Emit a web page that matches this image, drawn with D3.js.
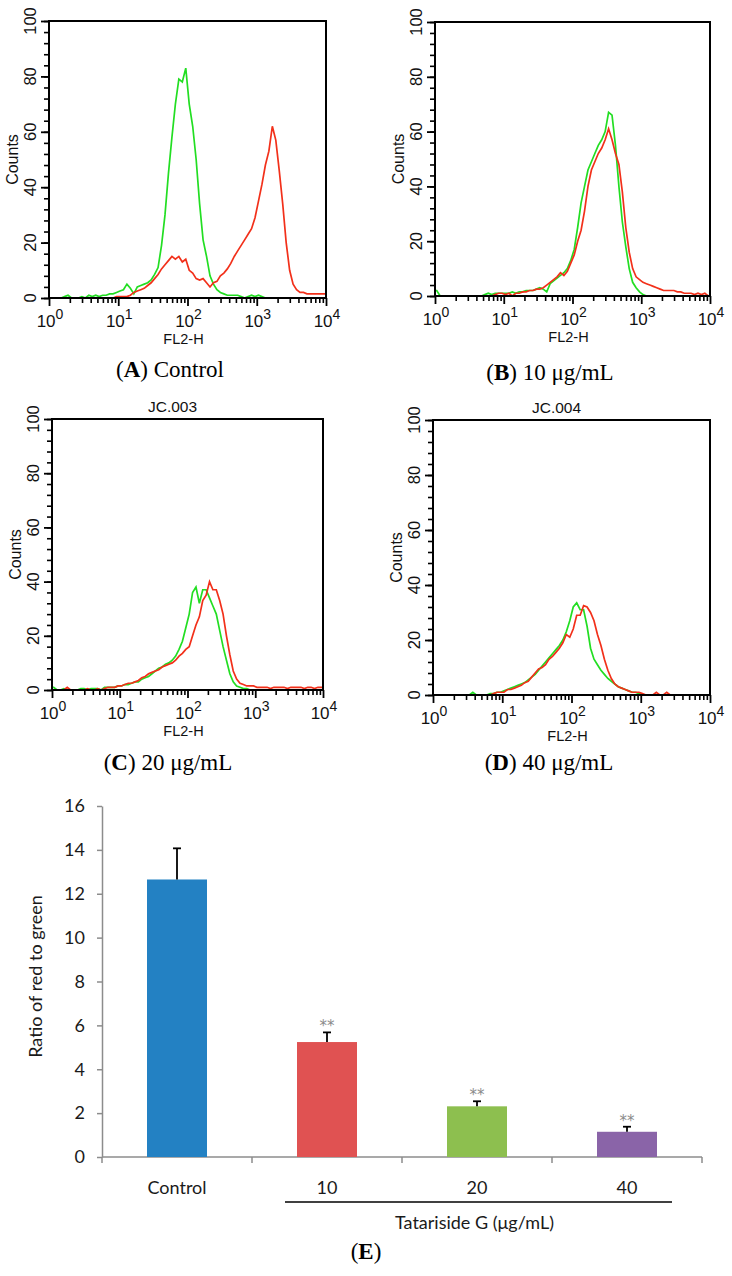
<!DOCTYPE html>
<html><head><meta charset="utf-8">
<script src="https://cdn.jsdelivr.net/npm/d3@7"></script>
<style>body{margin:0;background:#fff}svg{display:block}</style>
</head><body>
<svg id="c" width="732" height="1276"></svg>
<script>
// ---------------- DATA ----------------
// Flow histograms: counts per bin, bins are 0.05 decade wide from 10^0 to 10^4 (80 bins)
const binStep = 0.05;
const greenA = [0,0,0,0,0.5,1,0,0,0,0.5, 0,1,0.5,1,0.5,1,1,1.5,1.5,2,
  2.5,3,5,3.5,1.5,4,4.5,5,5.5,6.5, 8.5,11,19,30,45,58,70,79,78,83,
  70,62,50,34,21,15,8,5,3,2, 1.5,1,1,1,1,0.5,0,0.5,1,0.5,
  1,0.5,0,0,0,0,0,0,0,0, 0,0,0,0,0,0,0,0,0,0];
const redA = [0,0,0,0,0,0,0,0,0,0, 0,0,0,0,0,0,0,0,0,0.5,
  0.5,0.5,0.5,1,2,2.5,3,3.5,4.5,5.5, 7,8.5,10.5,12,13.5,15,14,15,13,14,
  10,9,7,6.5,7,5.5,4,5.5,6,8, 9,10.5,12.5,15,17,19,21,23,25,29,
  35,41,48,53,62,57,46,34,20,10, 5,3,2,2,1.5,1.5,1.5,1.5,1.5,1.5];
const greenB = [2,0,0,0,0,0,0,0,0,0, 0,0,0,0,0.5,1,0.5,1,1,1,
  1,1,1.5,1,1.5,1.5,2,2,2,2.5, 3,2.5,1.5,4.5,5.5,6.5,7.5,8.5,10,13,
  17,25,34,40,46,49,52,55,57,60, 67,66,55,40,27,18,10,5,3,1.5,
  0.5,0,0,0,0,0,0,0,0,0, 0,0,0,0,0,0,0,0,0,0];
const redB = [0,0,0,0,0,0,0,0,0,0, 0,0,0,0,0,0,0,0.5,1,1,
  0.5,1,0,1,1,1.5,1.5,2,2,2.5, 2.5,3,4,5,6,7,8.5,7.5,9,12,
  15,20,24,31,40,46,49,52,54,57, 61,57,52,48,38,25,16,10,7,6,
  5,4.5,4,3.5,3,2.5,2,2,2,2, 1.5,1.5,1,1,1,0.5,1,0.5,1,0];
const greenC = [1,0,0,0.5,0,0,0,0,0.5,0.5, 0,0.5,0.5,0.5,0,1,1,1,1,1.5,
  1.5,2,2,2.5,3,3,4,4.5,5,6, 7,8,8.5,9.5,10,11,12.5,15,18,23,
  28,36,38,32,37,37,34,31,28,22, 16,11,6,3,1.5,1,0.5,0.5,0,0,
  0,0,0,0,0,0,0,0,0,0, 0,0,0,0,0,0,0,0,0,0];
const redC = [0,0,0,0,1,0,0,0,0,0, 0.5,0,0,0.5,0,0.5,1,1,1,1.5,
  1.5,2,2.5,2.5,3,3.5,4.5,5,6,6.5, 7,7.5,8.5,9,9.5,10,11,12.5,13.5,15,
  16,20,24,27,33,35,40,37,37,33, 28,20,13,7,4,2.5,2,1.5,1.5,1.5,
  1,1,1,1,0.5,1,1,1,1,0.5, 1,1,1,1,0.5,1,1,0.5,1,1];
const greenD = [0,0,0,0,0,0,0,0,0,0, 0,1,0,0,0,0,0.5,0.5,1,1,
  1.5,2,2.5,3,3.5,4,4.5,5.5,6.5,7.5, 9,10.5,12,13.5,15,16.5,18,20,23,27,
  32,33.5,31,31,25,17,13,11,9,7.5, 6,5,4,3,2.5,2,1.5,1,1,0.5,
  0,0,0,0,0,0,0,0,0,0, 0,0,0,0,0,0,0,0,0,0];
const redD = [0,0,0,0,0,0,0,0,0,0, 0,0,0,0,0,0,0,0.5,1,1,
  1,2,2,2.5,3,3.5,4.5,5,6.5,8, 9.5,10,11,13,14,15.5,17,19,22,21,
  24,29,29,32.5,32,30,27,22,18,13, 9,6,4,3,2.5,2,1.5,1,1,1,
  0.5,0,0,0,1,0,0,1,0,0, 0,0,0,0,0,0,0,0,0,0];

const countTicks = [0, 20, 40, 60, 80, 100];
const countMinorTicks = d3.range(0, 101, 4);
const decadeTicks = [1, 10, 100, 1000, 10000];
const decadeExponents = ["0", "1", "2", "3", "4"];
const histXLabel = "FL2-H";
const histYLabel = "Counts";
const panelTitles = ["", "", "JC.003", "JC.004"];
const panelLetters = ["A", "B", "C", "D"];
const panelCaptions = [" Control", " 10 \u03bcg/mL", " 20 \u03bcg/mL", " 40 \u03bcg/mL"];

// Bar chart (E)
const barCategories = ["Control", "10", "20", "40"];
const barValues = [12.65, 5.24, 2.31, 1.15];
const barErrors = [1.42, 0.44, 0.23, 0.23];
const barMarks = ["", "**", "**", "**"];
const ratioTicks = [0, 2, 4, 6, 8, 10, 12, 14, 16];
const barYLabel = "Ratio of red to green";
const barGroupLabel = "Tatariside G (\u03bcg/mL)";
const barPanelLetter = "E";

// ---------------- LAYOUT / STYLE ----------------
const svg = d3.select("#c");
svg.append("rect").attr("width", 732).attr("height", 1276).attr("fill", "#fff");
const SANS = "'Liberation Sans', Arial, Helvetica, sans-serif";
const SERIF = "'Liberation Serif', 'Times New Roman', serif";
const GREEN = "#22de22", RED = "#f2301a";

const panels = [
  {x0: 49, x1: 326, y0: 21, y1: 298, cx: 170, cy: 377, green: greenA, red: redA},
  {x0: 435, x1: 710, y0: 22, y1: 296, cx: 550, cy: 380, green: greenB, red: redB},
  {x0: 52, x1: 323, y0: 419, y1: 690, cx: 168, cy: 770, green: greenC, red: redC},
  {x0: 433, x1: 710, y0: 420, y1: 695, cx: 549, cy: 770, green: greenD, red: redD}
];

panels.forEach((p, pi) => {
  const g = svg.append("g");
  const x = d3.scaleLog().domain([1, 10000]).range([p.x0, p.x1]);
  const y = d3.scaleLinear().domain([0, 100]).range([p.y1, p.y0]);

  // y axis ticks
  g.append("g").attr("transform", `translate(${p.x0},0)`)
    .call(d3.axisLeft(y).tickValues(countMinorTicks).tickSize(5).tickFormat(""))
    .call(a => a.select(".domain").remove())
    .call(a => a.selectAll("line").attr("stroke", "#000").attr("stroke-width", 1.6));
  g.append("g").attr("transform", `translate(${p.x0},0)`)
    .call(d3.axisLeft(y).tickValues(countTicks).tickSize(8).tickFormat(""))
    .call(a => a.select(".domain").remove())
    .call(a => a.selectAll("line").attr("stroke", "#000").attr("stroke-width", 1.8));
  // x axis ticks
  const minorX = [];
  decadeTicks.slice(0, -1).forEach(d => { for (let k = 2; k <= 9; k++) minorX.push(d * k); });
  g.append("g").attr("transform", `translate(0,${p.y1})`)
    .call(d3.axisBottom(x).tickValues(minorX).tickSize(5).tickFormat(""))
    .call(a => a.select(".domain").remove())
    .call(a => a.selectAll("line").attr("stroke", "#000").attr("stroke-width", 1.6));
  g.append("g").attr("transform", `translate(0,${p.y1})`)
    .call(d3.axisBottom(x).tickValues(decadeTicks).tickSize(8).tickFormat(""))
    .call(a => a.select(".domain").remove())
    .call(a => a.selectAll("line").attr("stroke", "#000").attr("stroke-width", 1.8));

  // y tick labels (rotated)
  countTicks.forEach(t => {
    g.append("text").attr("transform", `translate(${p.x0 - 19},${y(t)}) rotate(-90)`)
      .attr("text-anchor", "middle").attr("dominant-baseline", "central")
      .attr("font-family", SANS).attr("font-size", 16.5).attr("fill", "#111").text(t);
  });
  g.append("text").attr("transform", `translate(${p.x0 - 37},${(p.y0 + p.y1) / 2}) rotate(-90)`)
    .attr("text-anchor", "middle").attr("dominant-baseline", "central")
    .attr("font-family", SANS).attr("font-size", 16).attr("fill", "#111").text(histYLabel);
  // x tick labels
  decadeTicks.forEach((t, i) => {
    const tx = g.append("text").attr("x", x(t) + 1).attr("y", p.y1 + 29)
      .attr("text-anchor", "middle").attr("font-family", SANS).attr("font-size", 17).attr("fill", "#111");
    tx.append("tspan").text("10");
    tx.append("tspan").attr("dy", -8).attr("font-size", 14).text(decadeExponents[i]);
  });
  g.append("text").attr("x", (p.x0 + p.x1) / 2 - 4).attr("y", p.y1 + 46)
    .attr("text-anchor", "middle").attr("font-family", SANS).attr("font-size", 14.5).attr("fill", "#111").text(histXLabel);
  if (panelTitles[pi]) {
    g.append("text").attr("x", (p.x0 + p.x1) / 2 - 15).attr("y", p.y0 - 7)
      .attr("text-anchor", "middle").attr("font-family", SANS).attr("font-size", 15.5).attr("fill", "#111").text(panelTitles[pi]);
  }

  // histograms (bin-centre counts joined by line segments)
  const clipId = "clip" + pi;
  svg.append("clipPath").attr("id", clipId).append("rect")
    .attr("x", p.x0).attr("y", p.y0 - 2).attr("width", p.x1 - p.x0).attr("height", p.y1 - p.y0 + 2);
  const line = d3.line().x(d => x(Math.pow(10, d[0]))).y(d => y(d[1])).curve(d3.curveLinear);
  const toPts = arr => {
    const pts = [[0, arr[0]]];
    arr.forEach((c, i) => pts.push([(i + 0.5) * binStep, c]));
    pts.push([4, arr[arr.length - 1]]);
    return pts;
  };
  g.append("path").attr("clip-path", `url(#${clipId})`).attr("d", line(toPts(p.green)))
    .attr("fill", "none").attr("stroke", GREEN).attr("stroke-width", 1.7);
  g.append("path").attr("clip-path", `url(#${clipId})`).attr("d", line(toPts(p.red)))
    .attr("fill", "none").attr("stroke", RED).attr("stroke-width", 1.7);

  // frame
  g.append("rect").attr("x", p.x0).attr("y", p.y0).attr("width", p.x1 - p.x0).attr("height", p.y1 - p.y0)
    .attr("fill", "none").attr("stroke", "#000").attr("stroke-width", 2);

  // caption
  const cap = svg.append("text").attr("x", p.cx).attr("y", p.cy).attr("text-anchor", "middle")
    .attr("font-family", SERIF).attr("font-size", 23).attr("fill", "#000");
  cap.append("tspan").text("(");
  cap.append("tspan").attr("font-weight", "bold").text(panelLetters[pi]);
  cap.append("tspan").text(")" + panelCaptions[pi]);
});

// ---------------- BAR CHART (E) ----------------
const LATO = "Lato, 'Open Sans', sans-serif";
const barColors = ["#2381c3", "#e05252", "#8dbf4f", "#8a64a8"];
const xb = d3.scaleBand().domain(barCategories).range([102, 702]).paddingInner(0.6).paddingOuter(0.3);
const yb = d3.scaleLinear().domain([0, 16]).range([1157, 806]);
const gE = svg.append("g");

gE.append("g").attr("transform", "translate(102,0)")
  .call(d3.axisLeft(yb).tickValues(ratioTicks).tickSize(5).tickPadding(12).tickSizeOuter(0))
  .call(a => a.select(".domain").attr("stroke", "#8c8c8c").attr("stroke-width", 1.5))
  .call(a => a.selectAll("line").attr("stroke", "#8c8c8c").attr("stroke-width", 1.5))
  .call(a => a.selectAll("text").attr("font-family", LATO).attr("font-size", 18).attr("fill", "#1a1a1a"));

// x axis with boundary ticks
const step = xb.step();
const bounds = barCategories.map(c => xb(c) - (step - xb.bandwidth()) / 2).concat([702]);
gE.append("line").attr("x1", 102).attr("x2", 702).attr("y1", yb(0)).attr("y2", yb(0))
  .attr("stroke", "#8c8c8c").attr("stroke-width", 1.5);
gE.selectAll(".bt").data(bounds).enter().append("line")
  .attr("x1", d => d).attr("x2", d => d).attr("y1", yb(0)).attr("y2", yb(0) + 6)
  .attr("stroke", "#8c8c8c").attr("stroke-width", 1.5);

gE.selectAll(".bar").data(barValues).enter().append("rect")
  .attr("x", (d, i) => xb(barCategories[i])).attr("width", xb.bandwidth())
  .attr("y", d => yb(d)).attr("height", d => yb(0) - yb(d))
  .attr("fill", (d, i) => barColors[i]);

// error bars
barValues.forEach((v, i) => {
  const cx = xb(barCategories[i]) + xb.bandwidth() / 2;
  gE.append("line").attr("x1", cx).attr("x2", cx).attr("y1", yb(v)).attr("y2", yb(v + barErrors[i]))
    .attr("stroke", "#000").attr("stroke-width", 1.8);
  gE.append("line").attr("x1", cx - 4).attr("x2", cx + 4).attr("y1", yb(v + barErrors[i])).attr("y2", yb(v + barErrors[i]))
    .attr("stroke", "#000").attr("stroke-width", 1.8);
  if (barMarks[i]) {
    gE.append("text").attr("x", cx).attr("y", yb(v + barErrors[i]) - 1).attr("text-anchor", "middle")
      .attr("font-family", "'DejaVu Sans', sans-serif").attr("font-size", 15).attr("fill", "#8a8a8a").text(barMarks[i]);
  }
  gE.append("text").attr("x", cx).attr("y", 1194).attr("text-anchor", "middle")
    .attr("font-family", LATO).attr("font-size", 18).attr("fill", "#1a1a1a").text(barCategories[i]);
});

// group underline + label
const gx0 = xb(barCategories[1]) - 12, gx1 = xb(barCategories[3]) + xb.bandwidth() + 15;
gE.append("line").attr("x1", gx0).attr("x2", gx1).attr("y1", 1202).attr("y2", 1202)
  .attr("stroke", "#000").attr("stroke-width", 1.5);
gE.append("text").attr("x", (gx0 + gx1) / 2 - 4).attr("y", 1229).attr("text-anchor", "middle")
  .attr("font-family", LATO).attr("font-size", 18).attr("fill", "#1a1a1a").text(barGroupLabel);
gE.append("text").attr("transform", `translate(35,${(806 + 1157) / 2 - 5}) rotate(-90)`)
  .attr("text-anchor", "middle").attr("dominant-baseline", "central")
  .attr("font-family", LATO).attr("font-size", 18).attr("fill", "#1a1a1a").text(barYLabel);

const capE = svg.append("text").attr("x", 366).attr("y", 1259).attr("text-anchor", "middle")
  .attr("font-family", SERIF).attr("font-size", 23).attr("fill", "#000");
capE.append("tspan").text("(");
capE.append("tspan").attr("font-weight", "bold").text(barPanelLetter);
capE.append("tspan").text(")");
</script>
</body></html>
